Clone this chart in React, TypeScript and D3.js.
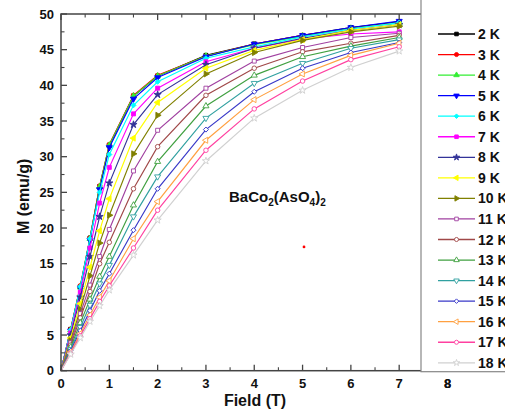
import React from 'react';
import * as d3 from 'd3';

// ---- data ----
const FIELD = [0, 0.2, 0.4, 0.6, 0.8, 1, 1.5, 2, 3, 4, 5, 6, 7];
const TEMPS = ['2 K', '3 K', '4 K', '5 K', '6 K', '7 K', '8 K', '9 K', '10 K', '11 K', '12 K', '13 K', '14 K', '15 K', '16 K', '17 K', '18 K'];
const M_2K = [0, 5.8, 11.8, 18.6, 25.8, 31.6, 38.5, 41.3, 44.2, 45.8, 47.0, 48.1, 48.9];
const M_3K = [0, 5.8, 11.9, 18.6, 25.9, 31.7, 38.6, 41.4, 44.1, 45.8, 47.0, 48.0, 48.8];
const M_4K = [0, 5.7, 11.7, 18.5, 25.8, 31.6, 38.5, 41.3, 44.1, 45.7, 46.9, 48.0, 48.7];
const M_5K = [0, 5.6, 11.6, 18.3, 25.4, 31.3, 38.1, 41.1, 44.0, 45.8, 47.0, 48.1, 49.0];
const M_6K = [0, 5.7, 11.8, 18.5, 25.0, 30.3, 37.2, 40.5, 43.8, 45.4, 46.8, 47.9, 48.8];
const M_7K = [0, 5.3, 11.0, 17.2, 23.5, 28.5, 36.0, 39.6, 43.3, 45.2, 46.5, 47.2, 47.5];
const M_8K = [0, 5.0, 10.3, 16.0, 21.6, 26.3, 34.5, 38.7, 42.9, 45.2, 46.6, 47.7, 48.5];
const M_9K = [0, 4.6, 9.4, 14.5, 19.6, 24.1, 32.6, 37.6, 42.4, 44.9, 46.4, 47.7, 48.5];
const M_10K = [0, 4.2, 8.6, 13.3, 17.9, 21.8, 30.4, 35.8, 41.6, 44.6, 46.3, 47.5, 48.3];
const M_11K = [0, 3.9, 8.0, 12.0, 16.0, 19.8, 28.0, 33.7, 39.6, 43.4, 45.3, 46.7, 47.3];
const M_12K = [0, 3.6, 7.4, 11.1, 15.0, 18.0, 25.5, 31.4, 38.6, 42.4, 44.7, 45.9, 47.0];
const M_13K = [0, 3.3, 6.7, 10.0, 13.2, 16.0, 23.2, 29.3, 37.1, 41.4, 44.0, 45.5, 46.7];
const M_14K = [0, 3.0, 6.1, 9.2, 12.2, 14.8, 21.6, 27.2, 35.4, 40.3, 43.1, 45.2, 46.4];
const M_15K = [0, 2.8, 5.6, 8.4, 11.2, 13.6, 19.7, 25.5, 33.8, 39.1, 42.4, 44.6, 46.0];
const M_16K = [0, 2.6, 5.2, 7.8, 10.3, 12.6, 18.5, 23.7, 32.3, 38.0, 41.6, 44.2, 45.9];
const M_17K = [0, 2.4, 4.9, 7.3, 9.7, 11.9, 17.2, 22.5, 30.9, 36.7, 40.6, 43.6, 45.4];
const M_18K = [0, 2.3, 4.6, 6.9, 9.1, 11.3, 16.2, 21.1, 29.4, 35.4, 39.3, 42.5, 44.8];
const SERIES_VALUES = [M_2K, M_3K, M_4K, M_5K, M_6K, M_7K, M_8K, M_9K, M_10K, M_11K, M_12K, M_13K, M_14K, M_15K, M_16K, M_17K, M_18K];
const COLORS = ['#000000', '#ff0000', '#33ee33', '#0000ff', '#00ffff', '#ff00ff', '#333399', '#ffff00', '#808000', '#a040a0', '#a04848', '#40a040', '#30a0a0', '#3838c8', '#ffa040', '#ff40a0', '#d0d0d0'];
const SHAPES = ['square', 'circle', 'up', 'down', 'diamond', 'square', 'star', 'left', 'right', 'square', 'circle', 'up', 'down', 'diamond', 'left', 'circle', 'star'];
const FILLED = [true, true, true, true, true, true, true, true, true, false, false, false, false, false, false, false, false];
const X_TICKS = [0, 1, 2, 3, 4, 5, 6, 7, 8];
const X_MINOR = [0.5, 1.5, 2.5, 3.5, 4.5, 5.5, 6.5, 7.5];
const Y_TICKS = [0, 5, 10, 15, 20, 25, 30, 35, 40, 45, 50];
const Y_MINOR = [2.5, 7.5, 12.5, 17.5, 22.5, 27.5, 32.5, 37.5, 42.5, 47.5];
const X_LABEL = 'Field (T)';
const Y_LABEL = 'M (emu/g)';
const ANNOT_DOT = { x: 5.03, y: 17.35 };

const FONT = 'Liberation Sans, Arial, Helvetica, sans-serif';

function symbolFor(shape: string, size: number): { d: string; rot: number } {
  switch (shape) {
    case 'square': return { d: d3.symbol(d3.symbolSquare, size)() as string, rot: 0 };
    case 'circle': return { d: d3.symbol(d3.symbolCircle, size)() as string, rot: 0 };
    case 'up': return { d: d3.symbol(d3.symbolTriangle, size)() as string, rot: 0 };
    case 'down': return { d: d3.symbol(d3.symbolTriangle, size)() as string, rot: 180 };
    case 'left': return { d: d3.symbol(d3.symbolTriangle, size)() as string, rot: -90 };
    case 'right': return { d: d3.symbol(d3.symbolTriangle, size)() as string, rot: 90 };
    case 'diamond': return { d: d3.symbol(d3.symbolSquare, size * 0.8)() as string, rot: 45 };
    case 'star': return { d: d3.symbol(d3.symbolStar, size)() as string, rot: 0 };
    default: return { d: d3.symbol(d3.symbolCircle, size)() as string, rot: 0 };
  }
}

function Marker({ cx, cy, i, size }: { cx: number; cy: number; i: number; size: number }) {
  const s = symbolFor(SHAPES[i], size);
  return (
    <path
      d={s.d}
      transform={`translate(${cx},${cy}) rotate(${s.rot})`}
      fill={FILLED[i] ? COLORS[i] : '#ffffff'}
      stroke={COLORS[i]}
      strokeWidth={0.9}
    />
  );
}

export default function App() {
  const W = 505, H = 409;
  const x = d3.scaleLinear().domain([0, 8]).range([61, 447.5]);
  const y = d3.scaleLinear().domain([0, 50]).range([370.7, 14]);
  const line = d3.line<number>().x((_, k) => x(FIELD[k])).y((v) => y(v));
  const axisColor = '#444';
  const legendX = 421;
  const legendTop = 34;
  const legendStep = 20.55;

  return (
    <svg width={W} height={H} style={{ position: 'absolute', left: 0, top: 0, background: '#fff' }} fontFamily={FONT}>
      <rect x={0} y={0} width={W} height={H} fill="#fff" />
      {/* series */}
      {SERIES_VALUES.map((vals, i) => (
        <g key={i}>
          <path d={line(vals) as string} fill="none" stroke={COLORS[i]} strokeWidth={1.15} />
          {vals.map((v, k) => (v > 0 ? <Marker key={k} cx={x(FIELD[k])} cy={y(v)} i={i} size={16} /> : null))}
        </g>
      ))}
      {/* frame */}
      <rect x={x(0)} y={y(50)} width={x(8) - x(0)} height={y(0) - y(50)} fill="none" stroke={axisColor} strokeWidth={1.5} />
      {/* x ticks bottom & top */}
      {X_TICKS.map((t) => (
        <g key={'xt' + t}>
          <line x1={x(t)} x2={x(t)} y1={y(0)} y2={y(0) - 6} stroke={axisColor} strokeWidth={1.3} />
          <line x1={x(t)} x2={x(t)} y1={y(50)} y2={y(50) + 6} stroke={axisColor} strokeWidth={1.3} />
          <text x={x(t)} y={388} textAnchor="middle" fontSize={13} fontWeight="bold" fill="#111">{t}</text>
        </g>
      ))}
      {X_MINOR.map((t) => (
        <g key={'xm' + t}>
          <line x1={x(t)} x2={x(t)} y1={y(0)} y2={y(0) - 3.5} stroke={axisColor} strokeWidth={1.1} />
          <line x1={x(t)} x2={x(t)} y1={y(50)} y2={y(50) + 3.5} stroke={axisColor} strokeWidth={1.1} />
        </g>
      ))}
      {Y_TICKS.map((t) => (
        <g key={'yt' + t}>
          <line x1={x(0)} x2={x(0) + 6} y1={y(t)} y2={y(t)} stroke={axisColor} strokeWidth={1.3} />
          <text x={54} y={y(t)} dy="0.36em" textAnchor="end" fontSize={13} fontWeight="bold" fill="#111">{t}</text>
        </g>
      ))}
      {Y_MINOR.map((t) => (
        <line key={'ym' + t} x1={x(0)} x2={x(0) + 3.5} y1={y(t)} y2={y(t)} stroke={axisColor} strokeWidth={1.1} />
      ))}
      {/* axis titles */}
      <text x={255} y={406} textAnchor="middle" fontSize={16} fontWeight="bold" fill="#111">{X_LABEL}</text>
      <text transform={`translate(29,${(y(0) + y(50)) / 2 + 4}) rotate(-90)`} textAnchor="middle" fontSize={16} fontWeight="bold" fill="#111">{Y_LABEL}</text>
      {/* compound label */}
      <text x={229} y={202} fontSize={15} fontWeight="bold" fill="#111">
        BaCo<tspan fontSize={10} dy={4}>2</tspan><tspan dy={-4}>(AsO</tspan><tspan fontSize={10} dy={4}>4</tspan><tspan dy={-4}>)</tspan><tspan fontSize={10} dy={4}>2</tspan>
      </text>
      <circle cx={x(ANNOT_DOT.x)} cy={y(ANNOT_DOT.y)} r={1.4} fill="#ff0000" />
      {/* legend */}
      <rect x={legendX} y={-5} width={120} height={y(0) + 5 + 1} fill="#fff" stroke="#888" strokeWidth={1.2} />
      {TEMPS.map((lab, i) => {
        const ly = legendTop + i * legendStep;
        return (
          <g key={lab}>
            <line x1={438} x2={475} y1={ly} y2={ly} stroke={COLORS[i]} strokeWidth={1.3} />
            <Marker cx={456.5} cy={ly} i={i} size={13} />
            <text x={478} y={ly} dy="0.36em" fontSize={14} fontWeight="bold" fill="#111">{lab}</text>
          </g>
        );
      })}
      <text x={x(8)} y={388} textAnchor="middle" fontSize={13} fontWeight="bold" fill="#111">8</text>
    </svg>
  );
}
